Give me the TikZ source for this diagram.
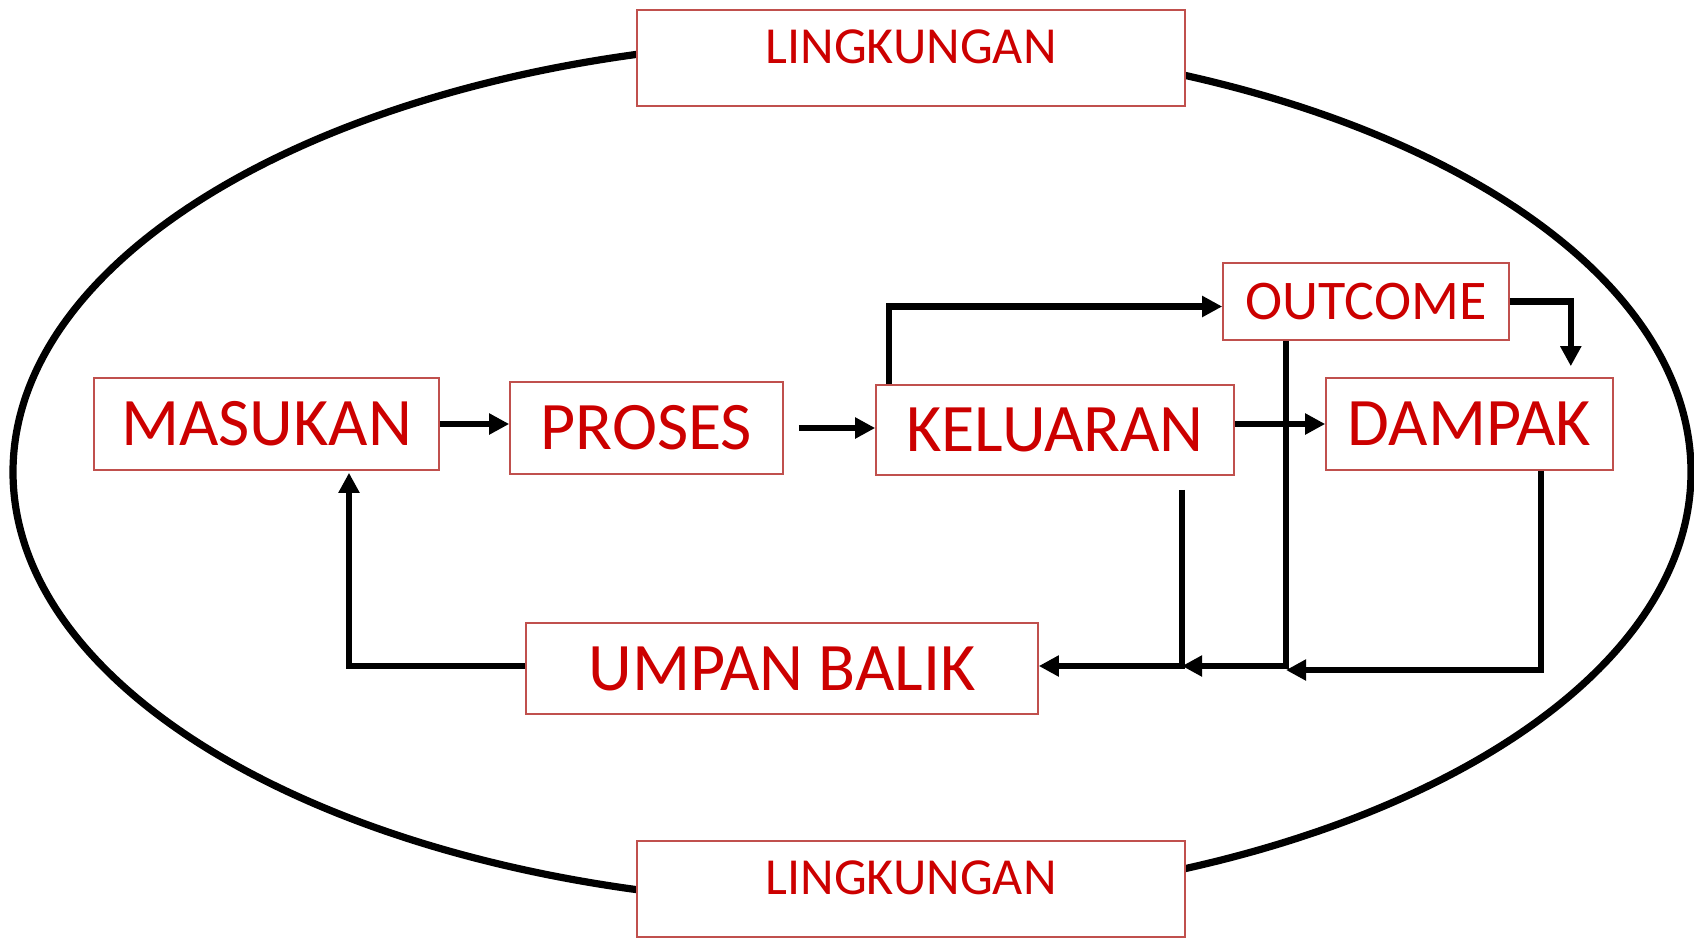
\documentclass[tikz,border=0pt]{standalone}
\usepackage{fontspec}
\setmainfont{Carlito}
\usetikzlibrary{arrows.meta}
\definecolor{boxred}{RGB}{192,80,77}
\definecolor{txtred}{RGB}{204,0,0}
\tikzset{
  box/.style={draw=boxred, line width=0.8pt, fill=white, text=txtred, inner sep=0pt},
  big/.style={font=\fontsize{34}{40}\selectfont},
  env/.style={box, minimum width=274pt, minimum height=48pt, font=\fontsize{26}{30}\selectfont, text height=16.7pt, text depth=11pt},
  conn/.style={line width=3.2pt},
  arr/.style={conn, -{Triangle[length=10pt,width=10pt]}}
}

\begin{document}
\begin{tikzpicture}[x=0.5pt, y=-0.5pt]
        \useasboundingbox (0,0) rectangle (1694,939);

        % environment
        \draw[line width=3.6pt] (852,472) ellipse [x radius=419.5pt, y radius=216pt];
        \node[env] (envtop) at (911,58) {LINGKUNGAN};
        \node[env] (envbot) at (911,889) {LINGKUNGAN};

        % system
        \node[box, big, minimum width=172.5pt, minimum height=46pt] (masukan) at (266.5,424) {MASUKAN};
        \node[box, big, minimum width=136.5pt, minimum height=46pt] (proses) at (646.5,428) {PROSES};
        \node[box, big, minimum width=179pt, minimum height=45pt] (keluaran) at (1055,430) {KELUARAN};
        \node[box, minimum width=143pt, minimum height=38.5pt, font=\fontsize{28}{32}\selectfont] (outcome) at (1366,301.5) {OUTCOME};
        \node[box, big, minimum width=143.5pt, minimum height=46pt] (dampak) at (1469.5,424) {DAMPAK};
        \node[box, big, minimum width=256pt, minimum height=45.5pt] (umpan) at (782,668.5) {UMPAN BALIK};

        % feedback junctions
        \coordinate (jk) at (1182,666);
        \coordinate (jo) at (1286,666);
        \coordinate (jd) at (1541,670);
        \coordinate (jm) at (349,666);

        % forward
        \draw[arr] (masukan.east) -- (masukan.east -| proses.west);
        \draw[arr, shorten <=7.5pt] (proses.east) -- (proses.east -| keluaran.west);
        \draw[arr] (dampak.west -| keluaran.east) -- (dampak.west);
        \draw[arr] ([xshift=7pt]keluaran.north west) |- ([yshift=-2.5pt]outcome.west);
        \draw[arr, shorten >=5.5pt] (outcome.east) -| ([xshift=-21.5pt]dampak.north east);

        % back
        \draw[arr, shorten <=7pt] (keluaran.south -| jk) -- (jk) -- (jk -| umpan.east);
        \draw[arr] (outcome.south -| jo) -- (jo) -- (jk);
        \draw[arr] (dampak.south -| jd) -- (jd) -- (jd -| jo);
        \draw[arr, shorten >=1pt] (umpan.west |- jm) -- (jm) -- (masukan.south -| jm);

    \end{tikzpicture}
\end{document}
